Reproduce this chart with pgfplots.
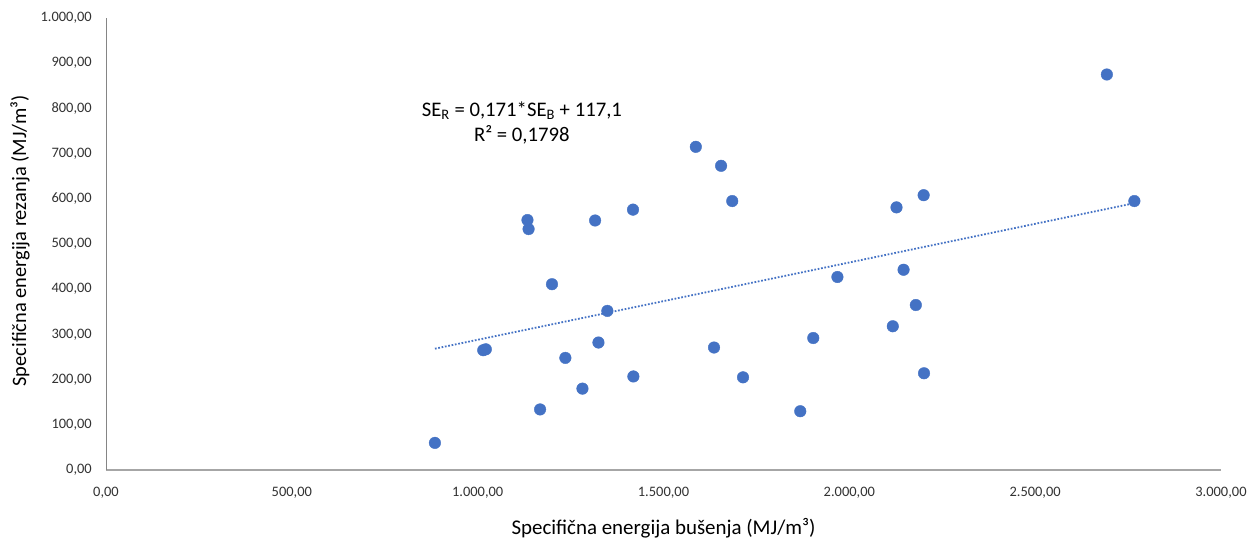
\documentclass[border=0pt]{standalone}
\usepackage{pgfplots}
\pgfplotsset{compat=1.18}
\usepackage{fontspec}
\setmainfont{Carlito}
\definecolor{xlblue}{RGB}{68,114,196}
\definecolor{axgray}{RGB}{166,166,166}
\definecolor{txt}{RGB}{50,50,50}
\begin{document}
\begin{tikzpicture}
\path[use as bounding box] (-106bp,-74bp) rectangle (1154bp,470bp);
\begin{axis}[
  at={(0,0)}, anchor=south west,
  scale only axis,
  width=1115bp, height=452bp,
  xmin=0, xmax=3000, ymin=0, ymax=1000,
  xtick={0,500,...,3000},
  ytick={0,100,...,1000},
  scaled x ticks=false, scaled y ticks=false,
  axis x line*=bottom, axis y line*=left,
  x axis line style={draw=axgray, line width=1.6bp, -},
  y axis line style={draw=axgray!80!black, line width=0.8bp, -},
  major tick length=0pt,
  /pgf/number format/.cd, use comma, 1000 sep={.}, fixed, fixed zerofill, precision=2, assume math mode=true,
  /pgfplots/.cd,
  ticklabel style={font=\fontsize{14.5}{16}\selectfont, text=txt},
  yticklabel style={anchor=east, inner sep=0pt, xshift=-14bp},
  xticklabel style={anchor=north, inner sep=0pt, yshift=-17bp},
  xlabel={Specifična energija bušenja (MJ/m³)},
  ylabel={Specifična energija rezanja (MJ/m³)},
  label style={text=black},
  xlabel style={font=\fontsize{21}{24}\selectfont, at={(axis description cs:0.5,0)}, anchor=center, yshift=-58bp},
  ylabel style={font=\fontsize{20.5}{24}\selectfont, at={(axis description cs:-0.0771,0.507)}, anchor=center},
  clip=false,
]
\addplot[only marks, mark=*, mark size=5.8bp, mark options={draw=xlblue, fill=xlblue}] coordinates {
(885,60)
(1015,265) (1022,267)
(1134,553)
(1137,533)
(1168,134)
(1200,411)
(1236,248)
(1282,180)
(1316,552)
(1325,282)
(1349,352)
(1418,576)
(1419,207)
(1587,715)
(1636,271)
(1655,673)
(1685,595)
(1714,205)
(1868,130)
(1903,292)
(1968,427)
(2117,318)
(2127,581)
(2146,443)
(2179,365)
(2200,608)
(2201,214)
(2693,875)
(2767,595)
};
\addplot[xlblue, line width=1.8bp, dash pattern=on 1.7bp off 1.7bp] coordinates {(885,268.4) (2767,590.3)};
\node[align=center, font=\fontsize{20.8}{25}\selectfont, text=black] at (axis cs:1119,768)
  {SE\textsubscript{R} = 0,171*SE\textsubscript{B} + 117,1\\R² = 0,1798};
\end{axis}
\end{tikzpicture}
\end{document}
